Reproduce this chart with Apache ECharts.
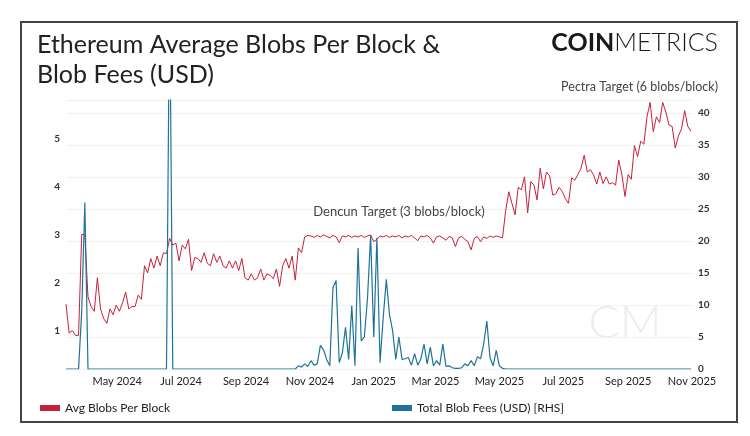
<!DOCTYPE html>
<html lang="en">
<head>
    <meta charset="UTF-8">
    <title>Ethereum Average Blobs Per Block & Blob Fees (USD)</title>
    <style>
        html, body { margin: 0; padding: 0; background: #fff; }
        #chart { width: 750px; height: 436px; }
    </style>
</head>
<body>
    <div id="chart"></div>
    <script src="https://cdn.jsdelivr.net/npm/echarts@6/dist/echarts.min.js"></script>
    <script>
        // one reading every 3 days, starting at the Dencun upgrade
        var startDay = [2024, 2, 13]
        var stepDays = 3

        var avgBlobsPerBlock = [
            1.55, 0.95, 1.0, 0.9, 0.9, 3.0, 3.0, 1.7, 1.5, 1.4,
            2.1, 1.45, 1.25, 1.15, 1.45, 1.33, 1.53, 1.4, 1.58, 1.8,
            1.45, 1.5, 1.5, 1.74, 1.65, 2.35, 2.2, 2.5, 2.3, 2.55,
            2.35, 2.62, 2.6, 2.92, 2.78, 2.82, 2.45, 2.78, 2.7, 2.9,
            2.25, 2.52, 2.5, 2.42, 2.62, 2.4, 2.35, 2.6, 2.42, 2.55,
            2.35, 2.3, 2.45, 2.3, 2.45, 2.25, 2.5, 2.1, 2.05, 2.18,
            2.05, 2.1, 2.28, 2.05, 2.18, 2.15, 2.08, 2.28, 1.92, 2.35,
            2.5, 2.3, 2.55, 2.05, 2.72, 2.62, 2.95, 2.98, 2.97, 2.94,
            2.98, 2.95, 2.99, 2.96, 2.93, 2.98, 2.95, 2.83, 2.97, 2.95,
            2.98, 2.94, 2.97, 2.95, 2.98, 2.94, 2.97, 2.99, 2.85, 2.9,
            2.97, 2.95, 2.98, 2.94, 2.97, 2.95, 2.98, 2.93, 2.97, 2.95,
            2.98, 2.93, 2.87, 2.97, 2.95, 2.98, 2.93, 2.82, 2.95, 2.97,
            2.93, 2.88, 2.96, 2.93, 2.75, 2.93, 2.96, 2.9, 2.85, 2.68,
            2.92, 2.96, 2.85, 2.95, 2.92, 2.97, 2.94, 2.97, 2.95, 2.93,
            3.5, 3.89, 3.65, 3.41, 3.98, 3.93, 4.2, 3.45, 4.1, 4.03,
            3.72, 4.38, 3.95, 4.3, 4.22, 3.82, 3.85, 3.98, 3.9, 3.75,
            3.65, 4.18, 4.13, 4.25, 4.38, 4.65, 4.3, 4.35, 4.24, 4.05,
            4.3, 4.06, 4.2, 4.05, 4.08, 4.03, 4.55, 4.25, 3.79, 4.25,
            4.15, 4.85, 4.62, 4.94, 4.88, 5.45, 5.75, 5.14, 5.45, 5.33,
            5.75, 5.55, 5.28, 5.25, 4.8, 5.05, 5.2, 5.58, 5.25, 5.15
        ]

        var totalBlobFees = [
            0, 0, 0, 0, 0, 9, 26, 0, 0, 0,
            0, 0, 0, 0, 0, 0, 0, 0, 0, 0,
            0, 0, 0, 0, 0, 0, 0, 0, 0, 0,
            0, 0, 0, 60, 0, 0, 0, 0, 0, 0,
            0, 0, 0, 0, 0, 0, 0, 0, 0, 0,
            0, 0, 0, 0, 0, 0, 0, 0, 0, 0,
            0, 0, 0, 0, 0, 0, 0, 0, 0, 0,
            0, 0, 0, 0, 0.5, 0.3, 0.8, 0.4, 1.3, 0.6,
            0.8, 3.7, 3.0, 1.5, 0.5, 12.7, 13.8, 1.0, 2.5, 6.5,
            1.5, 9.9, 0.5, 18.9, 4.4, 5.0, 11, 20.8, 5, 20.5,
            1, 8, 14, 8.5, 6, 1.5, 5, 1.5, 1.6, 1.8,
            0.6, 2.4, 0.6, 1.6, 3.9, 0.8, 3.4, 0.5, 1.3, 0.6,
            3.9, 0.4, 0.5, 0.2, 0.1, 0.1, 0.2, 0.8, 0.5, 1.3,
            0.5, 1.9, 1.6, 3.9, 7.5, 1.8, 0.5, 2.9, 0.5, 0.1,
            0, 0, 0, 0, 0, 0, 0, 0, 0, 0,
            0, 0, 0, 0, 0, 0, 0, 0, 0, 0,
            0, 0, 0, 0, 0, 0, 0, 0, 0, 0,
            0, 0, 0, 0, 0, 0, 0, 0, 0, 0,
            0, 0, 0, 0, 0, 0, 0, 0, 0, 0,
            0, 0, 0, 0, 0, 0, 0, 0, 0, 0
        ]

        var leftTicks = [1, 2, 3, 4, 5]
        var rightTicks = [0, 5, 10, 15, 20, 25, 30, 35, 40]

        var red = '#c8203a'
        var blue = '#1f7398'
        var font = 'Lato, "Open Sans", sans-serif'

        function dayAt(i) {
            return new Date(startDay[0], startDay[1], startDay[2] + i * stepDays).getTime()
        }

        var blobsData = avgBlobsPerBlock.map(function (v, i) { return [dayAt(i), v] })
        var feesData = totalBlobFees.map(function (v, i) { return [dayAt(i), v] })

        var myChart = echarts.init(document.getElementById('chart'))

        var option = {
            backgroundColor: '#fff',
            animation: false,
            textStyle: { fontFamily: font },
            grid: { left: 66, right: 58, top: 100, bottom: 67, containLabel: false },
            legend: [
                {
                    data: ['Avg Blobs Per Block'],
                    left: 35, top: 397,
                    icon: 'rect', itemWidth: 20, itemHeight: 6,
                    textStyle: { fontSize: 12, color: '#222', fontFamily: font }
                },
                {
                    data: ['Total Blob Fees (USD) [RHS]'],
                    left: 387, top: 397,
                    icon: 'rect', itemWidth: 20, itemHeight: 6,
                    textStyle: { fontSize: 12, color: '#222', fontFamily: font }
                }
            ],
            xAxis: {
                type: 'time',
                min: dayAt(0),
                max: new Date(2025, 10, 1).getTime(),
                splitNumber: 9,
                axisLine: { show: false },
                axisTick: { show: false },
                splitLine: { show: false },
                axisLabel: {
                    fontSize: 11, color: '#222', margin: 7,
                    formatter: function (value) {
                        return echarts.time.format(value, '{MMM} {yyyy}', false)
                    }
                }
            },
            yAxis: [
                {
                    type: 'value',
                    min: 0.2, max: 5.8, interval: 0.2,
                    axisLine: { show: false },
                    axisTick: { show: false },
                    splitLine: { show: false },
                    axisLabel: {
                        fontSize: 10, color: '#333', fontWeight: 'bold', margin: 6,
                        showMinLabel: false, showMaxLabel: false,
                        formatter: function (v) {
                            var r = Math.round(v)
                            return (Math.abs(v - r) < 1e-6 && leftTicks.indexOf(r) >= 0) ? String(r) : ''
                        }
                    }
                },
                {
                    type: 'value',
                    min: 0, max: 42, interval: 5,
                    position: 'right',
                    axisLine: { show: false },
                    axisTick: { show: false },
                    splitLine: { show: true, lineStyle: { color: '#f0f0f0', width: 1 } },
                    axisLabel: {
                        fontSize: 10, color: '#333', fontWeight: 'bold', margin: 6,
                        showMaxLabel: false,
                        formatter: function (v) {
                            return rightTicks.indexOf(v) >= 0 ? String(v) : ''
                        }
                    }
                }
            ],
            series: [
                {
                    name: 'Avg Blobs Per Block',
                    type: 'line',
                    yAxisIndex: 0,
                    data: blobsData,
                    showSymbol: false,
                    color: red,
                    lineStyle: { color: red, width: 1 }
                },
                {
                    name: 'Total Blob Fees (USD) [RHS]',
                    type: 'line',
                    yAxisIndex: 1,
                    data: feesData,
                    showSymbol: false,
                    color: blue,
                    lineStyle: { color: blue, width: 1.2 }
                }
            ],
            graphic: [
                {
                    type: 'rect', silent: true,
                    shape: { x: 21, y: 22, width: 716, height: 400 },
                    style: { fill: 'none', stroke: '#444', lineWidth: 2 }
                },
                {
                    type: 'text', x: 37, y: 30, silent: true,
                    style: {
                        text: 'Ethereum Average Blobs Per Block &\nBlob Fees (USD)',
                        font: '25px ' + font, fill: '#222', lineHeight: 30
                    }
                },
                {
                    type: 'text', x: 718, y: 30, silent: true,
                    style: {
                        text: '{a|COIN}{b|METRICS}',
                        align: 'right',
                        rich: {
                            a: { font: 'bold 25px ' + font, fill: '#1a1a1a' },
                            b: { font: '300 25px ' + font, fill: '#1a1a1a' }
                        }
                    }
                },
                {
                    type: 'text', x: 718, y: 80, silent: true,
                    style: {
                        text: 'Pectra Target (6 blobs/block)',
                        align: 'right', font: '12.5px ' + font, fill: '#444'
                    }
                },
                {
                    type: 'text', x: 399, y: 205, silent: true, z: 100,
                    style: {
                        text: 'Dencun Target (3 blobs/block)',
                        align: 'center', font: '13px ' + font, fill: '#444'
                    }
                },
                {
                    type: 'text', x: 625, y: 300, silent: true,
                    style: {
                        text: 'CM', align: 'center',
                        font: '300 46px ' + font, fill: 'rgba(190,210,215,0.35)'
                    }
                }
            ]
        }

        myChart.setOption(option)
    </script>
</body>
</html>
